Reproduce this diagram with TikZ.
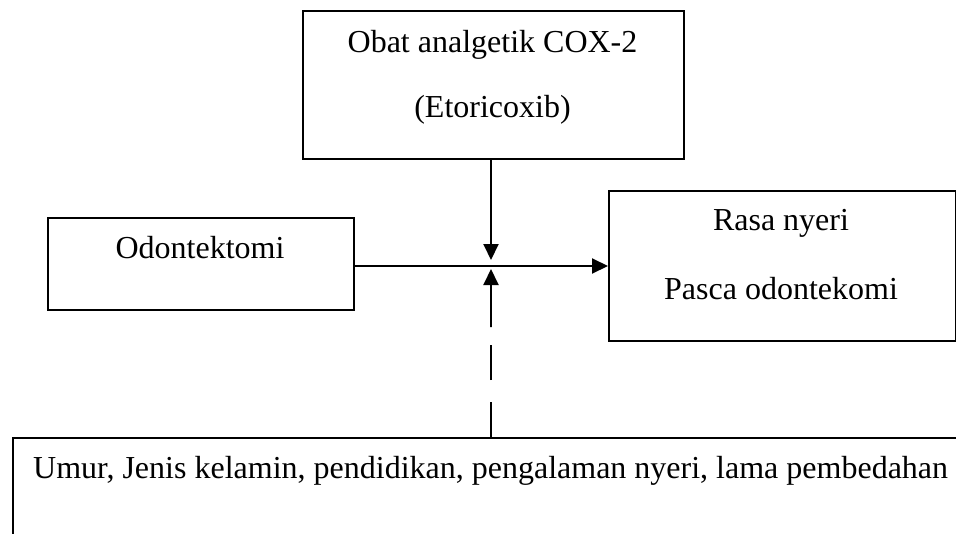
\documentclass[tikz,border=0pt]{standalone}
\usepackage{fontspec}
\setmainfont{Liberation Serif}
\usetikzlibrary{arrows.meta}
\begin{document}
\begin{tikzpicture}[x=1pt,y=-1pt,
  box/.style={draw, line width=2pt, inner sep=0pt, anchor=north west},
  lbl/.style={font=\fontsize{32}{38}\selectfont, inner sep=0pt, anchor=base},
  arr/.style={line width=2pt, -{Triangle[length=16pt,width=15pt]}}]
\useasboundingbox (0,0) rectangle (956,533);
\begin{scope}
\clip (0,0) rectangle (956,533);
\node[box, minimum width=381pt, minimum height=148pt] (obat) at (302,10) {};
\node[box, minimum width=306pt, minimum height=92pt] (odon) at (47,217) {};
\node[box, minimum width=347pt, minimum height=150pt] (rasa) at (608,190) {};
\node[box, minimum width=1000pt, minimum height=200pt] (fakt) at (12,437) {};
\end{scope}
\node[lbl] (t1) at (492.5,52) {Obat analgetik COX-2};
\node[lbl] (t2) at (492.5,117) {(Etoricoxib)};
\node[lbl] (t3) at (200,258) {Odontektomi};
\node[lbl] (t4) at (781,230) {Rasa nyeri};
\node[lbl] (t5) at (781,299) {Pasca odontekomi};
\node[lbl, anchor=base west] (t6) at (33,478) {Umur, Jenis kelamin, pendidikan, pengalaman nyeri, lama pembedahan};
\coordinate (j) at (491,266);
\coordinate (jt) at (491,260);
\coordinate (jb) at (491,269);
\coordinate (dend) at (491,327);
\draw[arr] (odon.east |- j) -- (rasa.west |- j);
\draw[arr] (obat.south -| j) -- (jt);
\draw[arr] (dend) -- (jb);
\draw[line width=1.5pt, dash pattern=on 35pt off 22pt on 35pt off 18pt] (fakt.north -| j) -- (dend);
\end{tikzpicture}
\end{document}
